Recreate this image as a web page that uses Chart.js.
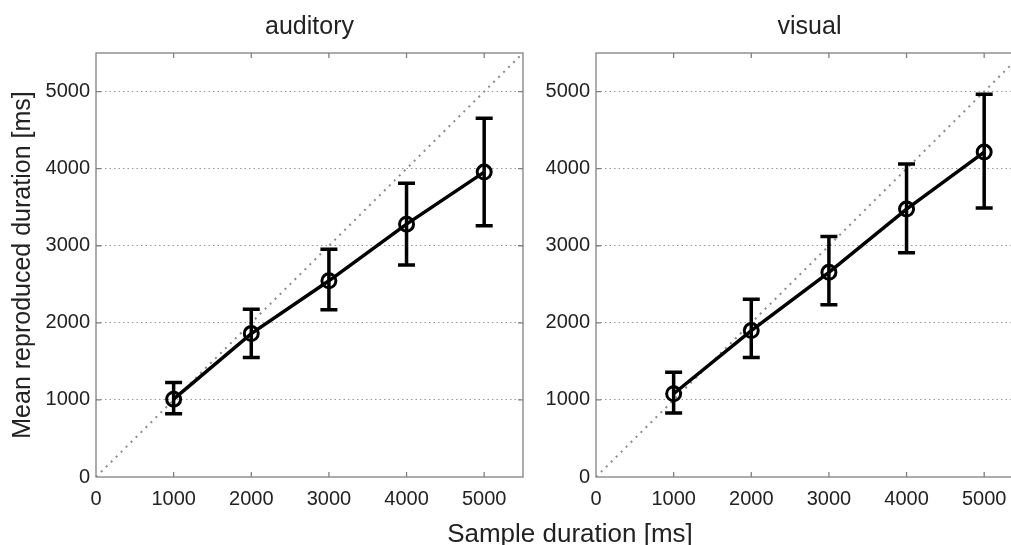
<!DOCTYPE html>
<html>
<head>
<meta charset="utf-8">
<script src="https://cdn.jsdelivr.net/npm/chart.js@4.4.1/dist/chart.umd.min.js"></script>
<style>
    html, body {
        margin: 0;
        padding: 0;
        background: #fff;
        overflow: hidden;
        width: 1011px;
        height: 545px;
    }
    #wrap {
        position: relative;
        width: 1011px;
        height: 545px;
        overflow: hidden;
    }
    .panel {
        position: absolute;
        top: 0;
        height: 545px;
        overflow: hidden;
    }
    #leftBox { left: 0; width: 540px; }
    #rightBox { left: 500px; width: 511px; }
    #xTitle {
        position: absolute;
        left: 570px;
        top: 533px;
        transform: translate(-50%, -50%);
        font-family: "Liberation Sans", Arial, sans-serif;
        font-size: 26px;
        color: #222;
        white-space: nowrap;
    }
</style>
</head>
<body>
<div id="wrap">
    <div class="panel" id="leftBox"><canvas id="leftPanel" width="540" height="545"></canvas></div>
    <div class="panel" id="rightBox"><canvas id="rightPanel" width="540" height="545"></canvas></div>
    <div id="xTitle">Sample duration [ms]</div>
</div>
<script>
const sampleMs = [1000, 2000, 3000, 4000, 5000];

const auditoryMean = [1010, 1860, 2545, 3280, 3955];
const auditoryLow = [820, 1550, 2170, 2750, 3260];
const auditoryHigh = [1225, 2175, 2955, 3810, 4655];

const visualMean = [1080, 1900, 2655, 3475, 4215];
const visualLow = [830, 1550, 2235, 2910, 3490];
const visualHigh = [1360, 2305, 3120, 4060, 4965];

const tickValues = [0, 1000, 2000, 3000, 4000, 5000];
const axisMax = 5500;

const fontFamily = '"Liberation Sans", Arial, sans-serif';

// box round the plot area plus short inward tick marks on all four sides
const boxPlugin = {
    id: 'box',
    beforeDatasetsDraw(chart) {
        const ctx = chart.ctx;
        const a = chart.chartArea;
        const xs = chart.scales.x;
        const ys = chart.scales.y;
        ctx.save();
        ctx.strokeStyle = '#808080';
        ctx.lineWidth = 1.3;
        ctx.strokeRect(a.left, a.top, a.right - a.left, a.bottom - a.top);
        ctx.beginPath();
        tickValues.forEach(function(v) {
            if (v === 0) return;
            var px = xs.getPixelForValue(v);
            ctx.moveTo(px, a.bottom);
            ctx.lineTo(px, a.bottom - 5);
            ctx.moveTo(px, a.top);
            ctx.lineTo(px, a.top + 5);
            var py = ys.getPixelForValue(v);
            ctx.moveTo(a.left, py);
            ctx.lineTo(a.left + 5, py);
            ctx.moveTo(a.right, py);
            ctx.lineTo(a.right - 5, py);
        });
        ctx.stroke();
        ctx.restore();
    }
};

const errorBarPlugin = {
    id: 'errorBars',
    afterDatasetsDraw(chart, args, opts) {
        const ctx = chart.ctx;
        const xs = chart.scales.x;
        const ys = chart.scales.y;
        ctx.save();
        ctx.strokeStyle = '#000';
        ctx.lineWidth = 3.5;
        ctx.lineCap = 'butt';
        opts.x.forEach(function(xv, i) {
            var px = xs.getPixelForValue(xv);
            var lo = ys.getPixelForValue(opts.low[i]);
            var hi = ys.getPixelForValue(opts.high[i]);
            ctx.beginPath();
            ctx.moveTo(px, lo);
            ctx.lineTo(px, hi);
            ctx.moveTo(px - 8.5, lo);
            ctx.lineTo(px + 8.5, lo);
            ctx.moveTo(px - 8.5, hi);
            ctx.lineTo(px + 8.5, hi);
            ctx.stroke();
        });
        ctx.restore();
    }
};

function plainTick(value) {
    return String(value);
}

function makePanel(id, title, means, low, high, showYTitle) {
    const points = sampleMs.map(function(x, i) {
        return { x: x, y: means[i] };
    });

    const config = {
        type: 'scatter',
        data: {
            datasets: [{
                label: 'unity',
                data: [{ x: 0, y: 0 }, { x: axisMax, y: axisMax }],
                showLine: true,
                borderColor: '#8a8a8a',
                borderWidth: 2,
                borderDash: [2, 5],
                pointRadius: 0,
                order: 2
            }, {
                label: title,
                data: points,
                showLine: true,
                borderColor: '#000',
                borderWidth: 3.5,
                pointRadius: 7,
                pointBorderWidth: 3,
                pointBorderColor: '#000',
                pointBackgroundColor: 'rgba(0,0,0,0)',
                order: 1
            }]
        },
        options: {
            responsive: false,
            animation: false,
            layout: {
                padding: { left: 0, right: 17, top: 0, bottom: 0 }
            },
            plugins: {
                legend: { display: false },
                tooltip: { enabled: false },
                title: {
                    display: true,
                    text: title,
                    fullSize: false,
                    color: '#222',
                    font: { family: fontFamily, size: 25, weight: 'normal', lineHeight: 1.2 },
                    padding: { top: 12, bottom: 11 }
                },
                errorBars: { x: sampleMs, low: low, high: high }
            },
            scales: {
                x: {
                    type: 'linear',
                    min: 0,
                    max: axisMax,
                    afterBuildTicks: function(scale) {
                        scale.ticks = tickValues.map(function(v) { return { value: v }; });
                    },
                    afterFit: function(scale) {
                        scale.height = 68;
                    },
                    grid: { display: false, drawTicks: false },
                    border: { display: false },
                    ticks: {
                        color: '#222',
                        padding: 10,
                        maxRotation: 0,
                        callback: plainTick,
                        font: { family: fontFamily, size: 20 }
                    }
                },
                y: {
                    type: 'linear',
                    min: 0,
                    max: axisMax,
                    afterBuildTicks: function(scale) {
                        scale.ticks = tickValues.map(function(v) { return { value: v }; });
                    },
                    afterFit: function(scale) {
                        scale.width = 96;
                    },
                    grid: {
                        drawTicks: false,
                        lineWidth: 1,
                        color: function(c) {
                            return c.tick && c.tick.value === 0 ? 'rgba(0,0,0,0)' : '#999';
                        }
                    },
                    border: { display: false, dash: [1.5, 3] },
                    ticks: {
                        color: '#222',
                        padding: 6,
                        callback: plainTick,
                        font: { family: fontFamily, size: 20 }
                    },
                    title: {
                        display: showYTitle,
                        text: 'Mean reproduced duration [ms]',
                        color: '#222',
                        font: { family: fontFamily, size: 25, lineHeight: 1.2 },
                        padding: { top: 8, bottom: 0 }
                    }
                }
            }
        },
        plugins: [boxPlugin, errorBarPlugin]
    };

    return new Chart(document.getElementById(id), config);
}

makePanel('leftPanel', 'auditory', auditoryMean, auditoryLow, auditoryHigh, true);
makePanel('rightPanel', 'visual', visualMean, visualLow, visualHigh, false);
</script>
</body>
</html>
